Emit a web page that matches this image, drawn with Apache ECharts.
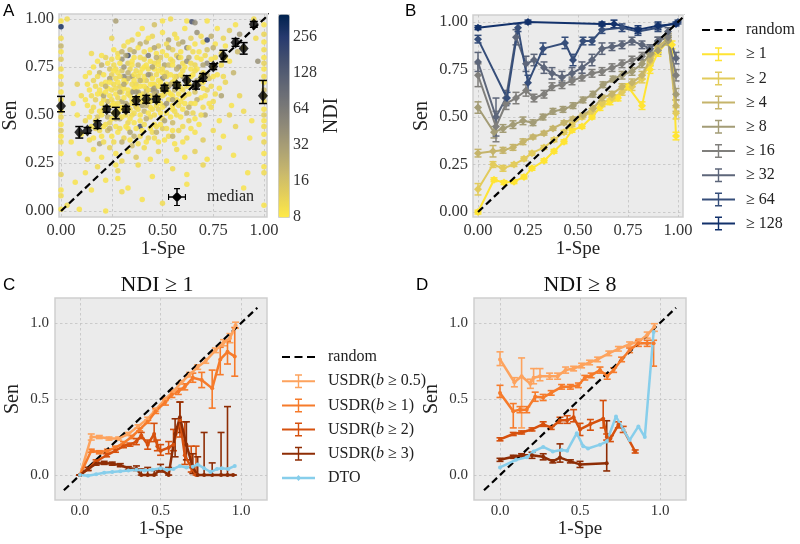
<!DOCTYPE html>
<html><head><meta charset="utf-8">
<script src="https://cdn.jsdelivr.net/npm/echarts@6/dist/echarts.min.js"></script>
<style>html,body{margin:0;padding:0;background:#fff}#c{width:800px;height:544px}</style>
</head><body><div id="c"></div>
<script>
// ---------------- DATA ----------------
// Panel A scatter: [1-Spe, Sen, NDI]
const scatterPoints = [
[0,0.01,9],[0,0.08,10],[0,0.11,9],[0,0.19,12],[0,0.3,9],[0,0.36,10],[0,0.39,9],[0,0.42,14],[0,0.45,9],[0,0.49,11],[0,0.52,9],[0,0.58,10],[0,0.62,9],[0,0.66,12],[0,0.7,9],[0,0.74,10],[0,0.79,13],[0,0.83,9],[0,0.86,20],[0,0.9,10],[0,0.96,300],[0,0.99,9],
[1,0.03,9],[1,0.2,10],[1,0.23,9],[1,0.3,9],[1,0.36,11],[1,0.4,9],[1,0.44,10],[1,0.47,9],[1,0.5,13],[1,0.53,9],[1,0.57,10],[1,0.6,9],[1,0.63,18],[1,0.67,9],[1,0.7,10],[1,0.74,9],[1,0.77,12],[1,0.8,9],[1,0.84,10],[1,0.88,9],[1,0.92,11],[1,0.97,9],
[0.97,0.78,40],[0.96,0.9,10],
[0.03,1,10],[0.27,0.99,30],[0.5,0.99,9],[0.54,1,10],[0.62,0.99,9],[0.645,0.985,150],[0.66,0.98,45],[0.72,0.99,9],[0.95,1,10],
[0.09,0.01,9],[0.03,0.03,10],[0.22,0.0,9],[0.4,0.06,9],[0.5,0.04,10],[0.07,0.15,9],[0.15,0.11,9],[0.3,0.1,10],[0.28,0.17,9],[0.62,0.14,9],[0.9,0.12,9],
[0.31,0.86,10],[0.35,0.89,12],[0.38,0.92,9],[0.42,0.88,20],[0.45,0.91,11],[0.48,0.86,14],[0.5,0.93,9],[0.53,0.89,30],[0.56,0.92,10],[0.58,0.87,18],[0.61,0.95,9],[0.64,0.9,12],[0.67,0.93,40],[0.7,0.88,10],[0.74,0.91,22],[0.77,0.95,9],[0.8,0.9,11],[0.83,0.94,13],[0.86,0.97,9],[0.4,0.95,9],[0.46,0.97,16],[0.25,0.9,11],[0.88,0.92,35],[0.9,0.85,10],[0.62,0.85,50],[0.55,0.84,12],[0.44,0.84,9],[0.36,0.83,25],[0.28,0.82,10],[0.72,0.84,15],[0.72,0.89,220],
[0.18,0.78,9],[0.22,0.8,12],[0.26,0.76,10],[0.3,0.79,40],[0.33,0.77,13],[0.36,0.8,9],[0.38,0.76,20],[0.41,0.79,11],[0.43,0.81,60],[0.46,0.77,10],[0.49,0.8,14],[0.51,0.76,28],[0.54,0.79,9],[0.57,0.81,12],[0.6,0.77,10],[0.63,0.8,24],[0.66,0.76,11],[0.69,0.79,9],[0.72,0.77,45],[0.76,0.8,10],[0.79,0.82,12],[0.83,0.78,9],[0.87,0.83,18],[0.15,0.82,10],[0.34,0.84,16],[0.47,0.82,9],[0.58,0.75,32],[0.4,0.74,9],[0.24,0.74,14],[0.65,0.83,10],[0.33,0.81,200],
[0.12,0.7,9],[0.16,0.68,11],[0.19,0.72,20],[0.22,0.67,9],[0.25,0.71,12],[0.27,0.69,10],[0.3,0.73,15],[0.32,0.67,9],[0.35,0.7,35],[0.37,0.66,11],[0.39,0.72,9],[0.42,0.68,13],[0.44,0.71,22],[0.46,0.66,10],[0.48,0.73,9],[0.5,0.69,55],[0.52,0.72,11],[0.55,0.67,9],[0.57,0.7,16],[0.6,0.73,10],[0.62,0.68,12],[0.65,0.71,9],[0.68,0.66,30],[0.7,0.72,10],[0.73,0.69,13],[0.77,0.71,9],[0.81,0.67,11],[0.85,0.72,20],[0.29,0.65,12],[0.41,0.75,9],[0.53,0.65,40],[0.2,0.66,10],[0.34,0.74,11],[0.58,0.66,9],[0.08,0.66,12],
[0.1,0.6,10],[0.14,0.63,9],[0.17,0.58,12],[0.2,0.61,9],[0.23,0.57,18],[0.25,0.63,10],[0.28,0.59,11],[0.3,0.62,9],[0.32,0.56,26],[0.34,0.6,10],[0.36,0.64,9],[0.38,0.58,14],[0.4,0.61,10],[0.43,0.57,9],[0.45,0.63,38],[0.47,0.59,11],[0.49,0.56,9],[0.51,0.61,12],[0.53,0.58,10],[0.56,0.63,20],[0.59,0.57,9],[0.61,0.6,11],[0.64,0.56,10],[0.66,0.62,15],[0.69,0.59,9],[0.72,0.63,12],[0.75,0.57,10],[0.79,0.6,28],[0.84,0.55,9],[0.88,0.6,11],[0.27,0.55,9],[0.42,0.64,16],[0.55,0.55,10],[0.37,0.55,12],[0.06,0.56,9],
[0.08,0.5,9],[0.12,0.47,11],[0.15,0.52,10],[0.18,0.49,14],[0.21,0.53,9],[0.24,0.46,12],[0.26,0.51,10],[0.29,0.48,30],[0.31,0.53,9],[0.33,0.46,11],[0.35,0.5,10],[0.37,0.54,13],[0.39,0.47,9],[0.41,0.52,20],[0.44,0.49,10],[0.46,0.45,9],[0.48,0.53,12],[0.5,0.48,10],[0.52,0.51,9],[0.55,0.46,18],[0.57,0.5,10],[0.6,0.53,9],[0.63,0.47,12],[0.65,0.51,11],[0.68,0.45,9],[0.71,0.5,24],[0.74,0.54,10],[0.78,0.47,9],[0.83,0.5,12],[0.9,0.52,10],[0.94,0.47,9],[0.39,0.44,150],[0.22,0.45,10],
[0.1,0.4,9],[0.14,0.37,10],[0.17,0.43,12],[0.2,0.39,9],[0.23,0.42,16],[0.26,0.36,10],[0.28,0.41,9],[0.31,0.38,11],[0.33,0.43,9],[0.36,0.39,22],[0.38,0.35,10],[0.4,0.42,9],[0.43,0.38,12],[0.45,0.41,10],[0.48,0.36,9],[0.5,0.43,14],[0.53,0.39,10],[0.56,0.35,9],[0.58,0.42,11],[0.62,0.38,10],[0.66,0.41,9],[0.7,0.37,13],[0.75,0.42,10],[0.8,0.39,9],[0.86,0.44,11],[0.93,0.38,9],[0.05,0.36,9],[0.19,0.35,28],[0.47,0.44,10],
[0.09,0.3,9],[0.13,0.27,11],[0.16,0.32,10],[0.2,0.28,9],[0.24,0.33,12],[0.27,0.3,9],[0.3,0.26,10],[0.33,0.31,9],[0.37,0.28,14],[0.41,0.33,10],[0.44,0.27,9],[0.48,0.31,11],[0.52,0.26,9],[0.57,0.32,10],[0.61,0.28,9],[0.66,0.31,12],[0.72,0.27,9],[0.78,0.33,10],[0.85,0.29,9],[0.35,0.34,18],
[0.12,0.2,9],[0.18,0.23,10],[0.22,0.16,9],[0.28,0.21,11],[0.33,0.12,9],[0.38,0.24,10],[0.45,0.18,9],[0.55,0.22,10],[0.62,0.19,9],[0.7,0.24,11],[0.27,0.24,9],[0.92,0.2,9],
[0.24,0.6,9],[0.26,0.66,10],[0.28,0.72,9],[0.3,0.57,28],[0.31,0.64,9],[0.33,0.69,22],[0.34,0.53,9],[0.35,0.62,40],[0.36,0.71,9],[0.37,0.59,10],[0.39,0.65,9],[0.4,0.55,28],[0.41,0.7,9],[0.42,0.62,18],[0.44,0.66,9],[0.45,0.53,10],[0.46,0.74,9],[0.47,0.62,35],[0.48,0.68,9],[0.49,0.6,10],[0.5,0.72,9],[0.51,0.55,22],[0.52,0.66,9],[0.53,0.76,16],[0.54,0.61,9],[0.56,0.7,10],[0.57,0.58,9],[0.58,0.8,28],[0.59,0.64,9],[0.6,0.7,26],[0.23,0.64,9],[0.21,0.58,10],[0.19,0.52,9],[0.27,0.48,22],[0.29,0.53,9],[0.32,0.5,10],[0.36,0.46,9],[0.38,0.62,32],[0.43,0.74,10],[0.44,0.54,9],[0.55,0.6,9],[0.62,0.65,10],[0.64,0.74,9],[0.67,0.68,22],[0.7,0.64,9],[0.26,0.56,9],[0.31,0.7,48],[0.45,0.58,70],[0.52,0.7,9],[0.48,0.78,10],
[0.33,0.88,9],[0.39,0.87,22],[0.43,0.9,9],[0.52,0.87,10],[0.57,0.9,9],[0.6,0.88,28],[0.66,0.87,9],[0.69,0.91,10],[0.76,0.87,9],
[0.26,0.84,9],[0.3,0.83,22],[0.38,0.85,9],[0.41,0.83,10],[0.46,0.85,28],[0.5,0.83,9],[0.53,0.85,20],[0.59,0.83,9],[0.63,0.85,10],[0.68,0.83,9],[0.75,0.85,22],[0.81,0.86,9],
[0.2,0.81,9],[0.25,0.79,10],[0.28,0.8,9],[0.32,0.81,28],[0.35,0.78,9],[0.39,0.8,10],[0.44,0.78,9],[0.47,0.8,22],[0.52,0.81,9],[0.55,0.78,10],[0.59,0.8,9],[0.62,0.78,40],[0.67,0.8,9],[0.71,0.81,10],[0.74,0.79,9],[0.81,0.8,10],
[0.16,0.75,9],[0.2,0.76,22],[0.23,0.77,9],[0.27,0.74,10],[0.29,0.77,9],[0.31,0.75,35],[0.35,0.76,9],[0.37,0.73,10],[0.42,0.76,9],[0.45,0.75,28],[0.48,0.76,9],[0.5,0.74,10],[0.55,0.76,9],[0.57,0.74,22],[0.61,0.75,9],[0.64,0.77,10],[0.67,0.74,9],[0.7,0.76,28],[0.75,0.75,9],[0.79,0.76,10],
[0.14,0.72,9],[0.18,0.7,10],[0.21,0.71,9],[0.24,0.69,28],[0.26,0.73,9],[0.29,0.7,10],[0.31,0.68,9],[0.33,0.72,22],[0.36,0.68,9],[0.38,0.7,10],[0.4,0.68,9],[0.43,0.71,40],[0.45,0.69,9],[0.47,0.71,10],[0.49,0.67,9],[0.51,0.7,22],[0.54,0.71,9],[0.56,0.68,10],[0.59,0.71,9],[0.61,0.69,35],[0.64,0.7,9],[0.66,0.73,10],[0.69,0.7,9],[0.72,0.71,22],[0.75,0.7,9],[0.8,0.7,10],
[0.13,0.66,9],[0.17,0.65,10],[0.19,0.63,9],[0.22,0.65,22],[0.24,0.67,9],[0.27,0.64,10],[0.28,0.67,9],[0.31,0.66,28],[0.33,0.63,9],[0.35,0.66,10],[0.37,0.64,9],[0.39,0.68,22],[0.41,0.65,9],[0.43,0.63,10],[0.45,0.66,9],[0.46,0.64,35],[0.48,0.65,9],[0.5,0.63,10],[0.52,0.64,9],[0.54,0.66,22],[0.57,0.65,9],[0.6,0.63,10],[0.63,0.66,9],[0.66,0.65,28],[0.7,0.67,9],[0.74,0.65,10],[0.78,0.64,9],
[0.12,0.58,9],[0.15,0.6,10],[0.18,0.61,9],[0.21,0.6,28],[0.22,0.62,9],[0.25,0.58,10],[0.27,0.61,9],[0.29,0.62,22],[0.31,0.59,9],[0.33,0.61,10],[0.35,0.58,9],[0.37,0.62,35],[0.39,0.6,9],[0.41,0.58,10],[0.44,0.6,9],[0.46,0.61,22],[0.48,0.58,9],[0.5,0.6,10],[0.53,0.62,9],[0.55,0.58,28],[0.58,0.61,9],[0.6,0.59,10],[0.63,0.61,9],[0.67,0.58,22],[0.71,0.6,9],[0.76,0.61,10],
[0.13,0.55,9],[0.16,0.54,10],[0.2,0.56,9],[0.22,0.54,22],[0.25,0.55,9],[0.28,0.56,10],[0.3,0.54,9],[0.33,0.55,28],[0.35,0.56,9],[0.38,0.53,10],[0.4,0.57,9],[0.42,0.55,22],[0.44,0.57,9],[0.47,0.55,10],[0.5,0.54,9],[0.52,0.56,35],[0.55,0.53,9],[0.58,0.55,10],[0.61,0.56,9],[0.63,0.54,22],[0.66,0.56,9],[0.7,0.54,10],[0.73,0.56,9],
[0.14,0.49,9],[0.17,0.47,10],[0.2,0.5,9],[0.23,0.49,22],[0.25,0.48,9],[0.28,0.51,10],[0.3,0.49,9],[0.32,0.52,28],[0.34,0.48,9],[0.36,0.51,10],[0.39,0.5,9],[0.42,0.48,22],[0.43,0.51,9],[0.46,0.5,10],[0.49,0.51,9],[0.51,0.47,28],[0.54,0.49,9],[0.56,0.52,10],[0.59,0.49,9],[0.62,0.51,22],[0.66,0.48,9],[0.69,0.5,10],
[0.15,0.44,9],[0.19,0.42,10],[0.21,0.44,9],[0.24,0.43,22],[0.27,0.44,9],[0.29,0.43,10],[0.32,0.44,9],[0.34,0.41,28],[0.37,0.43,9],[0.41,0.45,10],[0.44,0.43,9],[0.47,0.41,22],[0.49,0.45,9],[0.52,0.43,10],[0.55,0.42,9],[0.6,0.44,10],[0.64,0.43,9],
[0.16,0.38,9],[0.21,0.36,10],[0.25,0.39,9],[0.3,0.36,22],[0.34,0.37,9],[0.39,0.39,10],[0.42,0.36,9],[0.46,0.38,10],[0.51,0.37,9],[0.55,0.39,22],[0.6,0.36,9]
];
// Panel A medians: [1-Spe, Sen, err below, err above]
const medianPoints = [
[0.0,0.547,0.03,0.05],[0.09,0.41,0.03,0.03],[0.13,0.42,0.015,0.015],[0.18,0.45,0.02,0.02],[0.225,0.53,0.015,0.015],[0.27,0.51,0.03,0.03],[0.32,0.53,0.015,0.015],[0.37,0.575,0.02,0.02],[0.42,0.582,0.02,0.02],[0.47,0.582,0.015,0.015],[0.51,0.64,0.015,0.015],[0.57,0.655,0.015,0.015],[0.62,0.68,0.025,0.025],[0.665,0.655,0.02,0.02],[0.70,0.696,0.02,0.02],[0.75,0.752,0.015,0.015],[0.80,0.807,0.03,0.03],[0.86,0.878,0.02,0.02],[0.90,0.847,0.03,0.03],[0.95,0.972,0.015,0.015],[0.995,0.60,0.04,0.08]
];
const ndiTicks = [8,16,32,64,128,256];
const ndiMax = 400;
const ticksAB = [0,0.25,0.5,0.75,1];
const tickLabelsAB = ['0.00','0.25','0.50','0.75','1.00'];
const ticksCD = [0,0.5,1];
const tickLabelsCD = ['0.0','0.5','1.0'];

// Panel B: [1-Spe, Sen, err]
const bNames = ['≥ 1','≥ 2','≥ 4','≥ 8','≥ 16','≥ 32','≥ 64','≥ 128'];
const b1 = [[0,0.0,0.01],[0.08,0.17,0.01],[0.13,0.155,0.01],[0.18,0.16,0.01],[0.23,0.185,0.01],[0.27,0.23,0.01],[0.33,0.27,0.01],[0.38,0.32,0.01],[0.43,0.37,0.01],[0.47,0.43,0.01],[0.52,0.45,0.01],[0.57,0.5,0.01],[0.61,0.55,0.015],[0.66,0.58,0.015],[0.7,0.6,0.015],[0.75,0.66,0.015],[0.82,0.56,0.02],[0.86,0.75,0.02],[0.9,0.84,0.02],[0.95,0.9,0.02],[0.97,0.88,0.02],[0.99,0.4,0.02]];
const b2 = [[0,0.12,0.03],[0.075,0.25,0.015],[0.125,0.23,0.015],[0.18,0.25,0.01],[0.23,0.28,0.01],[0.27,0.31,0.01],[0.33,0.34,0.01],[0.38,0.38,0.01],[0.43,0.42,0.01],[0.47,0.46,0.01],[0.52,0.5,0.01],[0.57,0.53,0.015],[0.62,0.57,0.015],[0.67,0.6,0.015],[0.72,0.63,0.015],[0.77,0.66,0.02],[0.82,0.7,0.02],[0.86,0.79,0.02],[0.9,0.86,0.02],[0.95,0.92,0.02],[0.99,0.52,0.03]];
const b4 = [[0,0.31,0.02],[0.075,0.32,0.03],[0.125,0.325,0.015],[0.175,0.34,0.015],[0.225,0.37,0.015],[0.275,0.395,0.01],[0.33,0.415,0.01],[0.375,0.44,0.01],[0.43,0.47,0.01],[0.475,0.49,0.01],[0.525,0.51,0.01],[0.575,0.545,0.015],[0.62,0.6,0.015],[0.67,0.62,0.015],[0.72,0.66,0.015],[0.77,0.68,0.02],[0.82,0.72,0.02],[0.86,0.8,0.02],[0.9,0.87,0.02],[0.95,0.91,0.02],[0.99,0.56,0.03]];
const b8 = [[0,0.55,0.03],[0.08,0.42,0.03],[0.125,0.44,0.02],[0.175,0.46,0.02],[0.225,0.48,0.02],[0.275,0.47,0.015],[0.325,0.5,0.015],[0.375,0.53,0.015],[0.425,0.54,0.015],[0.475,0.56,0.015],[0.525,0.59,0.015],[0.575,0.62,0.015],[0.625,0.67,0.015],[0.675,0.7,0.015],[0.72,0.72,0.02],[0.77,0.74,0.02],[0.82,0.78,0.02],[0.86,0.83,0.02],[0.9,0.85,0.02],[0.95,0.9,0.02],[0.99,0.62,0.03]];
const b16 = [[0,0.72,0.06],[0.09,0.45,0.08],[0.14,0.57,0.03],[0.19,0.6,0.03],[0.24,0.64,0.03],[0.28,0.6,0.02],[0.33,0.62,0.02],[0.37,0.66,0.02],[0.42,0.67,0.02],[0.47,0.69,0.02],[0.52,0.71,0.02],[0.57,0.73,0.02],[0.62,0.74,0.02],[0.67,0.76,0.02],[0.72,0.78,0.02],[0.77,0.8,0.02],[0.82,0.82,0.02],[0.86,0.86,0.02],[0.9,0.9,0.02],[0.95,0.92,0.02],[0.99,0.72,0.03]];
const b32 = [[0,0.79,0.05],[0.09,0.5,0.1],[0.14,0.6,0.04],[0.19,0.92,0.04],[0.24,0.78,0.04],[0.28,0.8,0.03],[0.33,0.76,0.03],[0.37,0.73,0.03],[0.42,0.71,0.03],[0.47,0.73,0.03],[0.52,0.76,0.03],[0.57,0.8,0.03],[0.62,0.86,0.03],[0.67,0.87,0.02],[0.72,0.88,0.02],[0.77,0.9,0.02],[0.82,0.88,0.02],[0.86,0.86,0.02],[0.9,0.9,0.02],[0.95,0.95,0.02],[0.99,0.81,0.03]];
const b64 = [[0,0.91,0.02],[0.145,0.6,0.03],[0.2,0.97,0.02],[0.25,0.68,0.04],[0.325,0.86,0.03],[0.435,0.89,0.03],[0.475,0.8,0.03],[0.525,0.9,0.02],[0.57,0.9,0.02],[0.62,0.96,0.02],[0.72,0.97,0.02],[0.8,0.95,0.02],[0.9,0.97,0.02],[1.0,1.0,0.01]];
const b128 = [[0,0.97,0.01],[0.25,1.0,0.01],[0.62,0.99,0.01],[0.68,0.99,0.02],[0.8,0.96,0.02],[0.9,0.98,0.02],[0.99,0.99,0.01]];

// Panels C, D: [1-Spe, Sen, err below, err above]
const usdrNames = ['USDR(b ≥ 0.5)','USDR(b ≥ 1)','USDR(b ≥ 2)','USDR(b ≥ 3)'];
const c05 = [[0,0,0,0],[0.07,0.25,0.02,0.02],[0.12,0.25,0.01,0.01],[0.18,0.24,0.01,0.01],[0.24,0.24,0.01,0.01],[0.3,0.27,0.01,0.01],[0.36,0.32,0.01,0.01],[0.42,0.37,0.01,0.01],[0.47,0.43,0.01,0.01],[0.53,0.5,0.01,0.01],[0.58,0.55,0.01,0.01],[0.63,0.61,0.01,0.01],[0.68,0.66,0.015,0.015],[0.73,0.71,0.015,0.015],[0.78,0.75,0.015,0.015],[0.84,0.82,0.015,0.015],[0.89,0.87,0.02,0.02],[0.93,0.9,0.03,0.03],[0.965,0.985,0.02,0.02]];
const c1 = [[0,0,0,0],[0.07,0.16,0.01,0.01],[0.12,0.15,0.01,0.01],[0.17,0.16,0.01,0.01],[0.22,0.18,0.01,0.01],[0.27,0.21,0.01,0.01],[0.32,0.25,0.01,0.01],[0.37,0.3,0.01,0.01],[0.42,0.35,0.01,0.01],[0.47,0.42,0.015,0.015],[0.53,0.48,0.02,0.02],[0.57,0.53,0.02,0.02],[0.61,0.55,0.02,0.02],[0.65,0.58,0.02,0.02],[0.7,0.64,0.03,0.03],[0.755,0.625,0.05,0.05],[0.82,0.57,0.13,0.12],[0.87,0.76,0.1,0.08],[0.915,0.81,0.08,0.07],[0.96,0.78,0.13,0.19]];
const c2 = [[0,0,0,0],[0.05,0.04,0.01,0.01],[0.1,0.09,0.01,0.01],[0.165,0.13,0.01,0.01],[0.22,0.16,0.01,0.01],[0.27,0.19,0.01,0.01],[0.31,0.2,0.01,0.01],[0.35,0.22,0.02,0.02],[0.38,0.26,0.02,0.02],[0.42,0.2,0.03,0.03],[0.46,0.27,0.05,0.07],[0.48,0.19,0.03,0.04],[0.5,0.16,0.03,0.04],[0.55,0.18,0.04,0.04],[0.58,0.2,0.04,0.1],[0.62,0.36,0.11,0.12],[0.65,0.13,0.06,0.22],[0.69,0.05,0.03,0.14],[0.72,0.0,0,0.19]];
const c3 = [[0,0,0,0],[0.05,0.04,0.01,0.01],[0.1,0.075,0.01,0.01],[0.15,0.08,0.01,0.01],[0.2,0.075,0.01,0.01],[0.25,0.065,0.01,0.01],[0.3,0.045,0.01,0.01],[0.35,0.04,0.01,0.02],[0.38,0.0,0,0.04],[0.42,0.0,0,0.05],[0.46,0.0,0,0.03],[0.5,0.04,0.02,0.03],[0.55,0.0,0,0.05],[0.59,0.27,0.15,0.1],[0.62,0.38,0.1,0.1],[0.66,0.2,0.1,0.15],[0.7,0.05,0.04,0.09],[0.73,0.0,0,0.12],[0.77,0.0,0,0.28],[0.82,0.0,0,0.08],[0.875,0.0,0,0.28],[0.915,0.0,0,0.45],[0.95,0.0,0,0.0]];
const cDTO = [[0,0],[0.05,-0.005],[0.1,0.005],[0.15,0.015],[0.2,0.02],[0.25,0.025],[0.3,0.03],[0.35,0.035],[0.4,0.03],[0.45,0.035],[0.5,0.045],[0.54,0.035],[0.58,0.04],[0.62,0.06],[0.66,0.05],[0.7,0.055],[0.73,0.07],[0.77,0.045],[0.81,0.02],[0.85,0.04],[0.88,0.045],[0.92,0.04],[0.96,0.06]];
const d05 = [[0,0.76,0.04,0.05],[0.09,0.61,0.03,0.03],[0.135,0.65,0.34,0.12],[0.19,0.6,0.03,0.03],[0.21,0.64,0.04,0.06],[0.25,0.65,0.03,0.05],[0.31,0.65,0.02,0.02],[0.36,0.65,0.02,0.02],[0.41,0.69,0.02,0.02],[0.46,0.7,0.015,0.015],[0.51,0.72,0.015,0.015],[0.56,0.74,0.015,0.015],[0.61,0.76,0.015,0.015],[0.68,0.8,0.015,0.015],[0.74,0.83,0.015,0.015],[0.81,0.86,0.015,0.015],[0.87,0.88,0.015,0.015],[0.92,0.92,0.02,0.02],[0.965,0.975,0.03,0.02]];
const d1 = [[0,0.54,0.03,0.05],[0.083,0.42,0.11,0.05],[0.125,0.43,0.02,0.02],[0.167,0.43,0.02,0.02],[0.22,0.515,0.03,0.03],[0.27,0.51,0.02,0.02],[0.32,0.54,0.015,0.015],[0.385,0.58,0.015,0.015],[0.44,0.58,0.015,0.015],[0.49,0.59,0.015,0.015],[0.53,0.64,0.015,0.015],[0.57,0.655,0.015,0.015],[0.625,0.69,0.02,0.02],[0.67,0.65,0.02,0.02],[0.71,0.69,0.015,0.015],[0.76,0.76,0.015,0.015],[0.81,0.82,0.015,0.015],[0.865,0.866,0.02,0.02],[0.92,0.866,0.02,0.02],[0.96,0.866,0.15,0.02]];
const d2 = [[0,0.235,0.01,0.01],[0.083,0.27,0.01,0.01],[0.135,0.28,0.01,0.01],[0.2,0.3,0.01,0.01],[0.27,0.335,0.015,0.015],[0.32,0.31,0.01,0.01],[0.375,0.36,0.02,0.02],[0.42,0.36,0.02,0.03],[0.46,0.38,0.03,0.05],[0.5,0.3,0.04,0.04],[0.565,0.335,0.04,0.03],[0.645,0.37,0.06,0.12],[0.667,0.25,0.02,0.02],[0.69,0.24,0.02,0.02],[0.74,0.33,0.02,0.02],[0.77,0.3,0.02,0.02],[0.845,0.155,0.01,0.01]];
const d3 = [[0,0.1,0.01,0.01],[0.083,0.12,0.01,0.01],[0.135,0.13,0.01,0.01],[0.2,0.13,0.02,0.02],[0.27,0.12,0.02,0.02],[0.33,0.09,0.01,0.01],[0.375,0.115,0.03,0.09],[0.44,0.09,0.01,0.01],[0.5,0.07,0.02,0.02],[0.667,0.077,0.05,0.28]];
const dDTO = [[0,0.05],[0.1,0.1],[0.167,0.117],[0.21,0.155],[0.27,0.185],[0.33,0.155],[0.385,0.165],[0.42,0.16],[0.48,0.275],[0.52,0.19],[0.55,0.175],[0.625,0.2],[0.667,0.22],[0.725,0.385],[0.77,0.3],[0.81,0.23],[0.865,0.32],[0.905,0.25],[0.96,0.94]];
const randomAB = [[0,0],[1.05,1.05]];
const randomCD = [[-0.1,-0.1],[1.1,1.1]];

// ---------------- STYLE ----------------
const serif = 'Liberation Serif';
const cividisR = ['#FFEA46','#E4CF5B','#C8B86C','#ACA174','#918B78','#777777','#5E6474','#434F6E','#26396E','#00224E'];
const bColors = ['#FFE433','#E2CB5C','#C5B46B','#A39C76','#807F7C','#5D667A','#364E7A','#12316B'];
const usdrColors = ['#FDA35E','#F67B2B','#D6510E','#8E2D05'];
const dtoColor = '#87CEEB';

const errIcon = 'path://M0,6H33V8H0Z M15.8,0H17.2V14H15.8Z M13,0H20V1.5H13Z M13,12.5H20V14H13Z';
const dashIcon = 'path://M0,0H8V2H0Z M12.5,0H20.5V2H12.5Z M25,0H33V2H25Z';
const dtoIcon = 'path://M0,6H33V8.5H0Z M16.5,4.2L19.3,7.25L16.5,10.3L13.7,7.25Z';
const medianIcon = 'path://M0,11H24V13H0Z M11,0H13V24H11Z M8,0H16V1.5H8Z M8,22.5H16V24H8Z M0,8H1.5V16H0Z M22.5,8H24V16H22.5Z M12,5L19,12L12,19L5,12Z';

function errRender(capW, lw) {
  return function (params, api) {
    const x = api.value(0), lo = api.value(1), hi = api.value(2);
    const p1 = api.coord([x, lo]), p2 = api.coord([x, hi]);
    const style = { stroke: api.visual('color'), lineWidth: lw };
    return { type: 'group', children: [
      { type: 'line', shape: { x1: p1[0], y1: p1[1], x2: p2[0], y2: p2[1] }, style: style },
      { type: 'line', shape: { x1: p1[0] - capW, y1: p1[1], x2: p1[0] + capW, y2: p1[1] }, style: style },
      { type: 'line', shape: { x1: p2[0] - capW, y1: p2[1], x2: p2[0] + capW, y2: p2[1] }, style: style }
    ]};
  };
}

function valAxis(o) {
  const labelOf = (v) => { const i = o.ticks.findIndex(t => Math.abs(t - v) < 1e-9); return i >= 0 ? o.labels[i] : ''; };
  return {
    type: 'value', gridIndex: o.grid, min: o.min, max: o.max, position: o.position,
    axisLine: { show: false }, axisTick: { show: false, customValues: o.ticks },
    splitLine: { show: o.split !== false, customValues: o.ticks, lineStyle: { color: '#c2c2c2', type: [2.5, 2.5], width: 0.8 } },
    axisLabel: { customValues: o.ticks, formatter: labelOf, fontFamily: serif, fontSize: o.fs, color: '#333', margin: o.margin },
    name: o.name, nameLocation: 'middle', nameGap: o.nameGap, nameRotate: o.nameRotate,
    nameTextStyle: { fontFamily: serif, fontSize: o.nfs, color: '#222' }
  };
}

const gridStyle = { show: true, backgroundColor: '#EBEBEB', borderColor: '#CFCFCF', borderWidth: 1.5 };
const grids = [
  Object.assign({ left: 57, top: 14, width: 210, height: 203 }, gridStyle),
  Object.assign({ left: 473, top: 15, width: 210, height: 202 }, gridStyle),
  Object.assign({ left: 55, top: 298, width: 212, height: 202 }, gridStyle),
  Object.assign({ left: 474, top: 298, width: 212, height: 202 }, gridStyle),
  { left: 278, top: 14, width: 11, height: 203, show: false }
];

const cbTicks = ndiTicks.map(v => Math.log2(v));
const xAxes = [
  valAxis({ grid: 0, min: -0.01, max: 1.015, ticks: ticksAB, labels: tickLabelsAB, fs: 16.5, margin: 5, name: '1-Spe', nameGap: 22, nfs: 19 }),
  valAxis({ grid: 1, min: -0.025, max: 1.025, ticks: ticksAB, labels: tickLabelsAB, fs: 16.5, margin: 5, name: '1-Spe', nameGap: 22, nfs: 19 }),
  valAxis({ grid: 2, min: -0.155, max: 1.16, ticks: ticksCD, labels: tickLabelsCD, fs: 15, margin: 4, name: '1-Spe', nameGap: 18, nfs: 19 }),
  valAxis({ grid: 3, min: -0.1625, max: 1.1625, ticks: ticksCD, labels: tickLabelsCD, fs: 15, margin: 4, name: '1-Spe', nameGap: 18, nfs: 19 }),
  { type: 'value', gridIndex: 4, show: false, min: 0, max: 1 }
];
const yAxes = [
  valAxis({ grid: 0, min: -0.031, max: 1.026, ticks: ticksAB, labels: tickLabelsAB, fs: 16.5, margin: 5, name: 'Sen', nameGap: 38, nfs: 20 }),
  valAxis({ grid: 1, min: -0.026, max: 1.037, ticks: ticksAB, labels: tickLabelsAB, fs: 16.5, margin: 5, name: 'Sen', nameGap: 41, nfs: 20 }),
  valAxis({ grid: 2, min: -0.164, max: 1.164, ticks: ticksCD, labels: tickLabelsCD, fs: 15, margin: 6, name: 'Sen', nameGap: 32, nfs: 20 }),
  valAxis({ grid: 3, min: -0.164, max: 1.164, ticks: ticksCD, labels: tickLabelsCD, fs: 15, margin: 6, name: 'Sen', nameGap: 32, nfs: 20 }),
  valAxis({ grid: 4, min: 3, max: Math.log2(ndiMax), ticks: cbTicks, labels: ndiTicks.map(String), fs: 16, margin: 4, name: 'NDI', nameGap: 33, nfs: 20, position: 'right', split: false, nameRotate: 90 })
];

const series = [];
// A
series.push({ type: 'scatter', name: 'scatterA', xAxisIndex: 0, yAxisIndex: 0, symbolSize: 5.5,
  data: scatterPoints.map(p => [p[0], p[1], Math.log2(p[2])]), itemStyle: { opacity: 0.85 }, z: 1 });
series.push({ type: 'line', name: 'random', xAxisIndex: 0, yAxisIndex: 0, data: randomAB, symbol: 'none',
  color: '#000', lineStyle: { color: '#000', width: 2.2, type: [7, 4] }, z: 2 });
series.push({ type: 'custom', name: 'median', xAxisIndex: 0, yAxisIndex: 0, renderItem: errRender(4, 1.5),
  data: medianPoints.map(p => [p[0], p[1] - p[2], p[1] + p[3]]), itemStyle: { color: '#000' }, z: 3 });
series.push({ type: 'scatter', name: 'median', xAxisIndex: 0, yAxisIndex: 0, symbol: 'diamond', symbolSize: [10, 12],
  data: medianPoints.map(p => [p[0], p[1]]), itemStyle: { color: '#000' }, z: 4 });

// B
[b1, b2, b4, b8, b16, b32, b64, b128].forEach((d, i) => {
  series.push({ type: 'custom', name: bNames[i], xAxisIndex: 1, yAxisIndex: 1, renderItem: errRender(3.5, 1.5),
    data: d.map(p => [p[0], p[1] - p[2], p[1] + p[2]]), itemStyle: { color: bColors[i] }, z: 2 });
  series.push({ type: 'line', name: bNames[i], xAxisIndex: 1, yAxisIndex: 1, data: d.map(p => [p[0], p[1]]),
    symbol: 'diamond', symbolSize: 8, color: bColors[i], lineStyle: { width: 2, color: bColors[i] },
    itemStyle: { color: bColors[i] }, z: 2 });
});
series.push({ type: 'line', name: 'random', xAxisIndex: 1, yAxisIndex: 1, data: randomAB, symbol: 'none',
  color: '#000', lineStyle: { color: '#000', width: 2.2, type: [7, 4] }, z: 3 });

// C, D
function addCD(ax, sets, dto) {
  series.push({ type: 'line', name: 'random', xAxisIndex: ax, yAxisIndex: ax, data: randomCD, symbol: 'none',
    color: '#000', lineStyle: { color: '#000', width: 2.2, type: [7, 4] }, z: 2 });
  sets.forEach((d, i) => {
    series.push({ type: 'custom', name: usdrNames[i], xAxisIndex: ax, yAxisIndex: ax, renderItem: errRender(3.5, 1.6),
      data: d.map(p => [p[0], p[1] - p[2], p[1] + p[3]]), itemStyle: { color: usdrColors[i] }, z: 2 });
    series.push({ type: 'line', name: usdrNames[i], xAxisIndex: ax, yAxisIndex: ax, data: d.map(p => [p[0], p[1]]),
      symbol: 'circle', symbolSize: 4, color: usdrColors[i], lineStyle: { width: 2.5, color: usdrColors[i] },
      itemStyle: { color: usdrColors[i] }, z: 2 });
  });
  series.push({ type: 'line', name: 'DTO', xAxisIndex: ax, yAxisIndex: ax, data: dto, symbol: 'circle', symbolSize: 4,
    color: dtoColor, lineStyle: { width: 2.5, color: dtoColor }, itemStyle: { color: dtoColor }, z: 2 });
}
addCD(2, [c05, c1, c2, c3], cDTO);
addCD(3, [d05, d1, d2, d3], dDTO);

const richLegend = {
  n: { fontFamily: serif, fontSize: 16, color: '#222' },
  i: { fontFamily: serif, fontSize: 16, color: '#222', fontStyle: 'italic' }
};

const option = {
  animation: false,
  backgroundColor: '#fff',
  grid: grids,
  xAxis: xAxes,
  yAxis: yAxes,
  visualMap: {
    type: 'continuous', seriesIndex: 0, dimension: 2, min: 3, max: Math.log2(ndiMax),
    inRange: { color: cividisR }, left: 278, top: 14, itemWidth: 11, itemHeight: 203,
    calculable: false, padding: 0, orient: 'vertical', hoverLink: false, text: null,
    borderColor: '#CFCFCF', borderWidth: 1
  },
  legend: [
    { left: 697, top: 17, orient: 'vertical', itemWidth: 33, itemHeight: 14, itemGap: 8.2, selectedMode: false,
      itemStyle: { borderWidth: 0 },
      data: [{ name: 'random', icon: dashIcon }].concat(bNames.map(n => ({ name: n, icon: errIcon }))),
      textStyle: { fontFamily: serif, fontSize: 16, color: '#222', lineHeight: 16, padding: [0, 0, 0, 6] } },
    { left: 277, top: 344, orient: 'vertical', itemWidth: 33, itemHeight: 14, itemGap: 8.2, selectedMode: false,
      itemStyle: { borderWidth: 0 },
      data: [{ name: 'random', icon: dashIcon }].concat(usdrNames.map(n => ({ name: n, icon: errIcon }))).concat([{ name: 'DTO', icon: dtoIcon }]),
      formatter: function (name) {
        const m = name.match(/^USDR\(b(.*)\)$/);
        if (m) return '{n|USDR(}{i|b}{n|' + m[1] + ')}';
        return '{n|' + name + '}';
      },
      textStyle: { fontFamily: serif, fontSize: 16, color: '#222', lineHeight: 16, padding: [0, 0, 0, 8], rich: richLegend } },
    { left: 163, top: 183, orient: 'vertical', itemWidth: 18, itemHeight: 19, selectedMode: false,
      itemStyle: { borderWidth: 0 },
      data: [{ name: 'median', icon: medianIcon }],
      textStyle: { fontFamily: serif, fontSize: 16, color: '#222', padding: [0, 0, 0, 16] } }
  ],
  graphic: [
    { type: 'text', x: 3, y: 3, style: { text: 'A', font: '17px "Liberation Sans"', fill: '#000' } },
    { type: 'text', x: 405, y: 3, style: { text: 'B', font: '17px "Liberation Sans"', fill: '#000' } },
    { type: 'text', x: 3, y: 277, style: { text: 'C', font: '17px "Liberation Sans"', fill: '#000' } },
    { type: 'text', x: 416, y: 277, style: { text: 'D', font: '17px "Liberation Sans"', fill: '#000' } },
    { type: 'text', x: 157, y: 285, style: { text: 'NDI ≥ 1', font: '22px "Liberation Serif"', fill: '#111', align: 'center', verticalAlign: 'middle' } },
    { type: 'text', x: 580, y: 285, style: { text: 'NDI ≥ 8', font: '22px "Liberation Serif"', fill: '#111', align: 'center', verticalAlign: 'middle' } }
  ],
  series: series
};
const chart = echarts.init(document.getElementById('c'), null, { renderer: 'canvas' });
chart.setOption(option);
</script>
</body></html>
